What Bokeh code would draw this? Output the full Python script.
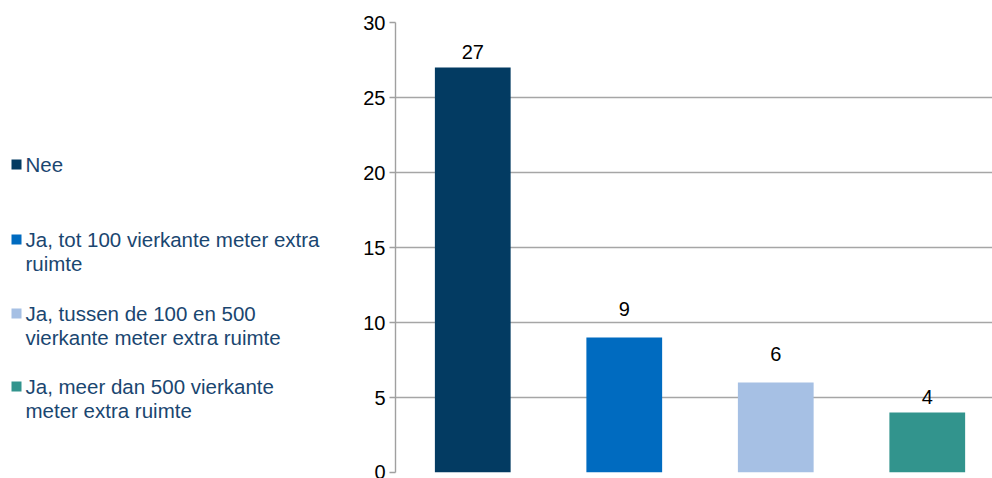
from bokeh.plotting import figure
from bokeh.layouts import row
from bokeh.models import Range1d, Label, ColumnDataSource, FixedTicker
from bokeh.embed import file_html
from bokeh.resources import INLINE
from bokeh.core.properties import value

# ---- data ----
categories = ["Nee",
              "Ja, tot 100 vierkante meter extra ruimte",
              "Ja, tussen de 100 en 500 vierkante meter extra ruimte",
              "Ja, meer dan 500 vierkante meter extra ruimte"]
legend_lines = [["Nee"],
                ["Ja, tot 100 vierkante meter extra", "ruimte"],
                ["Ja, tussen de 100 en 500", "vierkante meter extra ruimte"],
                ["Ja, meer dan 500 vierkante", "meter extra ruimte"]]
counts = [27, 9, 6, 4]
colors = ["#033b62", "#006bc0", "#a6c0e4", "#32948d"]
y_ticks = [0, 5, 10, 15, 20, 25, 30]
Y_MAX = 30

# ---- styles ----
FONT = "Liberation Sans"
LEG_COLOR = "#1a4670"
label_gaps = [16, 29, 29, 16]        # pixel distance from bar top to label centre
leg_centers = [164, 239, 313, 386]    # legend entry first-line vertical centres (px)
leg_line_gap = 24

TOP, BOTTOM = 22, 6
H = 478
FRAME_H = H - TOP - BOTTOM
PX_PER_UNIT = FRAME_H / Y_MAX

# ---- legend panel ----
leg = figure(width=355, height=H, x_range=Range1d(0, 355), y_range=Range1d(H - BOTTOM, TOP),
             output_backend="svg", toolbar_location=None,
             min_border_left=0, min_border_right=0, min_border_top=TOP, min_border_bottom=BOTTOM)
leg.axis.visible = False
leg.grid.visible = False
leg.outline_line_color = None

sq_x, sq_y = [], []
for i, lines in enumerate(legend_lines):
    for j, t in enumerate(lines):
        leg.add_layout(Label(x=25, y=leg_centers[i] + j * leg_line_gap, text=t,
                             text_font=FONT, text_font_size="20.5px",
                             text_color=LEG_COLOR, text_baseline="middle"))
    sq_x.append(16)
    sq_y.append(leg_centers[i])
leg.rect(x=sq_x, y=sq_y, width=10, height=10, fill_color=colors, line_color=None)

# ---- bar chart ----
xs = [i + 0.51 for i in range(len(counts))]
label_y = [c + g / PX_PER_UNIT for c, g in zip(counts, label_gaps)]
src = ColumnDataSource(dict(x=xs, top=counts, color=colors,
                            label=[str(c) for c in counts], cat=categories, ly=label_y))

p = figure(width=637, height=H, x_range=Range1d(0, 597 / 151.5), y_range=Range1d(0, Y_MAX),
           output_backend="svg", toolbar_location=None,
           min_border_left=40, min_border_right=0, min_border_top=TOP, min_border_bottom=BOTTOM)
p.vbar(x="x", top="top", bottom=0, width=0.5, fill_color="color", line_color=None, source=src)
p.text(x="x", y="ly", text="label", source=src, text_align="center", text_baseline="middle",
       text_font=value(FONT), text_font_size="20px", text_color="#000000")

p.xaxis.visible = False
p.xgrid.visible = False
p.ygrid.grid_line_color = "#a6a6a6"
p.ygrid.grid_line_width = 1.4
p.yaxis.ticker = FixedTicker(ticks=y_ticks)
p.yaxis.axis_line_color = "#a0a0a0"
p.yaxis.axis_line_width = 1.4
p.yaxis.major_tick_line_color = "#a0a0a0"
p.yaxis.major_tick_line_width = 1.4
p.yaxis.major_tick_out = 6
p.yaxis.major_tick_in = 0
p.yaxis.minor_tick_line_color = None
p.yaxis.major_label_text_font = FONT
p.yaxis.major_label_text_font_size = "20px"
p.yaxis.major_label_text_color = "#000000"
p.yaxis.major_label_standoff = 4
p.outline_line_color = None

layout = row(leg, p, spacing=0)
open("out.html", "w").write(file_html(layout, INLINE))
